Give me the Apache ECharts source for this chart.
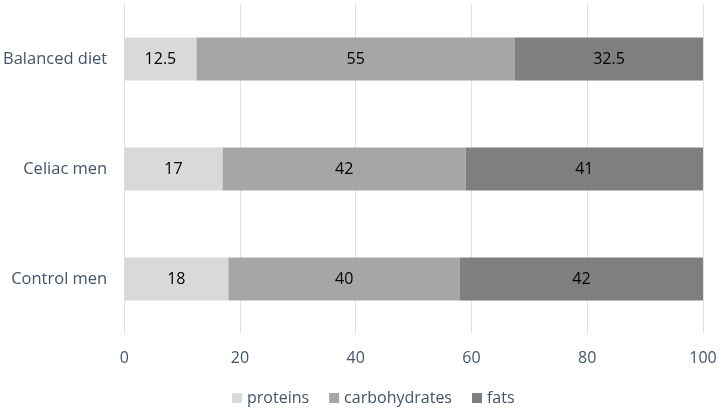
<!DOCTYPE html>
<html><head><meta charset="utf-8">
<script src="https://cdn.jsdelivr.net/npm/echarts@6/dist/echarts.min.js"></script>
<style>html,body{margin:0;padding:0;background:#fff}#c{width:721px;height:414px}</style>
</head><body><div id="c"></div>
<script>
const categories = ['Control men', 'Celiac men', 'Balanced diet'];
const proteins = [18, 17, 12.5];
const carbohydrates = [40, 42, 55];
const fats = [42, 41, 32.5];
const seriesNames = ['proteins', 'carbohydrates', 'fats'];
const colors = ['#d9d9d9', '#a6a6a6', '#7f7f7f'];
const font = 'Open Sans, Noto Sans, sans-serif';
const mk = (name, data, color) => ({
  name, type: 'bar', stack: 'a', data, barWidth: 43,
  itemStyle: { color },
  label: { show: true, position: 'inside', color: '#000', fontSize: 16, fontFamily: font },
  emphasis: { disabled: true }
});
const chart = echarts.init(document.getElementById('c'), null, { renderer: 'canvas' });
chart.setOption({
  animation: false,
  grid: { left: 124, right: 18, top: 4, bottom: 80, containLabel: false },
  legend: {
    bottom: 3, left: 227, itemWidth: 10, itemHeight: 10, itemGap: 20,
    icon: 'rect',
    textStyle: { color: '#44546a', fontSize: 16, fontFamily: font },
    data: seriesNames
  },
  xAxis: {
    type: 'value', min: 0, max: 100, interval: 20,
    axisLine: { show: false }, axisTick: { show: false },
    splitLine: { lineStyle: { color: '#dde3ea', width: 1 } },
    axisLabel: { color: '#44546a', fontSize: 16, fontFamily: font, margin: 16 }
  },
  yAxis: {
    type: 'category', data: categories,
    axisLine: { show: false }, axisTick: { show: false },
    axisLabel: { color: '#44546a', fontSize: 16.5, fontFamily: font, margin: 17 }
  },
  series: [
    mk(seriesNames[0], proteins, colors[0]),
    mk(seriesNames[1], carbohydrates, colors[1]),
    mk(seriesNames[2], fats, colors[2])
  ]
});
</script></body></html>
